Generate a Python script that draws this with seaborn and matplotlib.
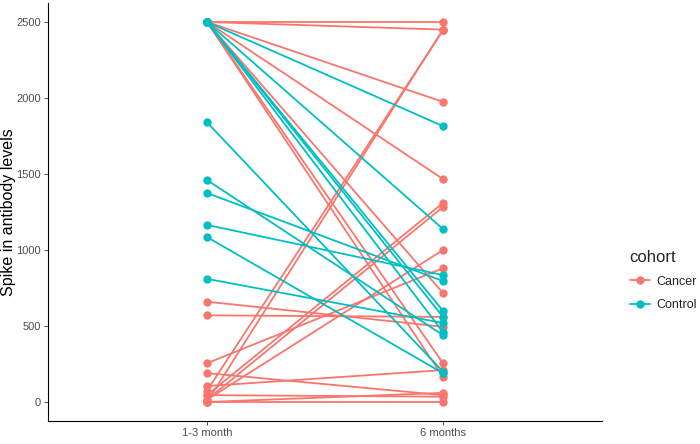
import matplotlib
matplotlib.use("Agg")
import matplotlib.pyplot as plt
import seaborn as sns
import pandas as pd

# paired antibody values, one entry per subject
timepoints = ["1-3 month", "6 months"]
cohorts = ["Cancer", "Control"]
palette = {"Cancer": "#F8766D", "Control": "#00BFC4"}

cancer_early = [2500, 2500, 2500, 2500, 2500, 2500, 2500,
                660, 570, 255, 190, 105, 15, 45, 15, 0, 75, 0, 0, 45]
cancer_late = [2500, 2450, 1975, 1467, 255, 165, 717,
               495, 560, 880, 45, 210, 1000, 1310, 1283, 2450, 2445, 60, 0, 35]

control_early = [2500, 2500, 2500, 2500, 2500,
                 1840, 1460, 1375, 1165, 1085, 810]
control_late = [1815, 1138, 600, 560, 460,
                200, 440, 796, 835, 190, 520]

rows = []
sid = 0
for cohort, early, late in [("Cancer", cancer_early, cancer_late),
                            ("Control", control_early, control_late)]:
    for a, b in zip(early, late):
        rows.append({"id": sid, "cohort": cohort, "time": timepoints[0], "value": a})
        rows.append({"id": sid, "cohort": cohort, "time": timepoints[1], "value": b})
        sid += 1
df = pd.DataFrame(rows)

sns.set_style("ticks")
plt.rcParams["font.family"] = ["Liberation Sans", "DejaVu Sans"]

fig = plt.figure(figsize=(7, 4.44), dpi=100)
# axes box in figure pixels: x 48..602, y 3..421
ax = fig.add_axes([48 / 700, 23 / 444, 554 / 700, 418 / 444])

sns.lineplot(data=df, x="time", y="value", hue="cohort", units="id",
             estimator=None, palette=palette, hue_order=cohorts,
             marker="o", markersize=6, markeredgewidth=0, linewidth=1.3,
             ax=ax)

ax.set_xlim(-0.674, 1.674)
ax.set_ylim(-125, 2625)
ax.set_yticks([0, 500, 1000, 1500, 2000, 2500])
ax.set_xlabel("")
ax.set_ylabel("Spike in antibody levels", fontsize=11.5, color="black")
ax.yaxis.set_label_coords(-0.058, 0.5)
ax.tick_params(colors="#333333", labelsize=8, length=3, width=0.6,
               labelcolor="#4D4D4D", pad=2)
for side in ["top", "right"]:
    ax.spines[side].set_visible(False)
for side in ["left", "bottom"]:
    ax.spines[side].set_linewidth(0.8)
    ax.spines[side].set_color("black")

sns.move_legend(ax, loc="upper left", bbox_to_anchor=(1.05, 0.41),
                frameon=False, title="cohort", fontsize=9,
                title_fontsize=12, handlelength=1.6, handletextpad=0.5,
                borderpad=0, borderaxespad=0, labelspacing=0.9)
leg = ax.get_legend()
leg._legend_box.align = "left"

fig.savefig("out.png", dpi=100)
